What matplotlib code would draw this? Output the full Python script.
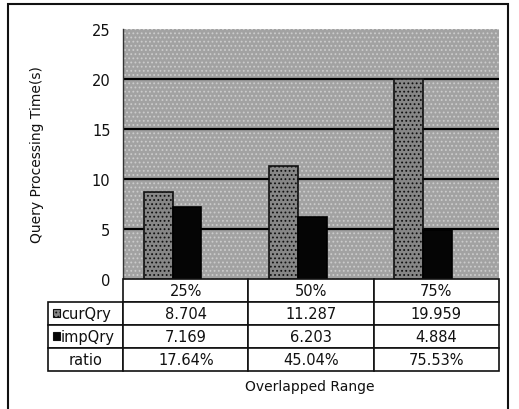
"""
重複範囲ごとのクエリ処理時間を棒グラフ＋データ表で描画
"""

import matplotlib

matplotlib.use("Agg")

import matplotlib.pyplot as plt
import numpy as np
from matplotlib.patches import Rectangle

# データ
categories = ["25%", "50%", "75%"]
cur_qry = [8.704, 11.287, 19.959]
imp_qry = [7.169, 6.203, 4.884]
ratio = ["17.64%", "45.04%", "75.53%"]
y_ticks = [0, 5, 10, 15, 20, 25]

W, H = 519, 410
plt.rcParams["font.family"] = ["DejaVu Sans"]
plt.rcParams["hatch.linewidth"] = 0.8

fig = plt.figure(figsize=(W / 100, H / 100), dpi=100)


def fx(px):
    return px / W


def fy(py):
    return 1 - py / H


# プロット領域
ax = fig.add_axes([fx(123), fy(280), fx(499) - fx(123), fy(30) - fy(280)])
ax.set_facecolor("#a2a2a2")
ax.add_patch(Rectangle((0, 0), 1, 1, transform=ax.transAxes, facecolor="none",
                       edgecolor="#cccccc", hatch="....", linewidth=0, zorder=0))

x = np.arange(len(categories))
bw = 0.23
ax.bar(x - 0.22, cur_qry, width=bw, color="#878787", edgecolor="#111111",
       linewidth=1.2, hatch="....", zorder=3)
ax.bar(x + 0.01, imp_qry, width=bw, color="#050505", edgecolor="#000000",
       linewidth=1.2, zorder=3)

ax.set_xlim(-0.5, len(categories) - 0.5)
ax.set_ylim(0, 25)
ax.set_yticks(y_ticks)
ax.set_xticks([])
ax.tick_params(axis="y", length=0, labelsize=10.5, pad=9, colors="#111111")
for v in y_ticks[1:-1]:
    ax.axhline(v, color="#000000", linewidth=1.6, zorder=2)
for side in ["top", "right", "bottom"]:
    ax.spines[side].set_visible(False)
ax.spines["left"].set_color("#333333")
ax.spines["left"].set_linewidth(1.0)

ax.set_ylabel("Query Processing Time(s)", fontsize=10, color="#111111")
ax.yaxis.set_label_coords(-(123 - 44) / (499 - 123), (280 - 155) / 250)

# データ表
cell_text = [["curQry"] + [f"{v:.3f}" for v in cur_qry],
             ["impQry"] + [f"{v:.3f}" for v in imp_qry],
             ["ratio"] + ratio]
col_labels = [""] + categories
tab_ax = fig.add_axes([fx(48), fy(372), fx(499) - fx(48), fy(280) - fy(372)])
tab_ax.axis("off")
tbl = tab_ax.table(cellText=cell_text, colLabels=col_labels,
                   colWidths=[75, 125, 125, 125], cellLoc="center",
                   bbox=[0, 0, 1, 1])
tbl.auto_set_font_size(False)
for (r, c), cell in tbl.get_celld().items():
    cell.set_linewidth(1.2)
    cell.set_edgecolor("#111111")
    cell.get_text().set_fontsize(10.5)
    cell.get_text().set_color("#111111")
    if r == 0 and c == 0:
        cell.visible_edges = ""
    elif c == 0 and r in (1, 2):
        cell.get_text().set_ha("left")
        cell.PAD = 0.17

# 凡例マーク
swatch = [("#878787", "...."), ("#050505", None)]
row_tops = [302, 325]
for (col, hatch), top in zip(swatch, row_tops):
    fig.patches.append(Rectangle((fx(53), fy(top + 16)), fx(7), fy(top + 8) - fy(top + 16),
                                 transform=fig.transFigure, facecolor=col,
                                 edgecolor="#111111", hatch=hatch, linewidth=0.8))

fig.text(fx(310), fy(387), "Overlapped Range", ha="center", va="center",
         fontsize=10, color="#111111")

# 外枠
fig.patches.append(Rectangle((fx(8), -0.05), fx(508) - fx(8), fy(5) + 0.05,
                             transform=fig.transFigure, facecolor="none",
                             edgecolor="#111111", linewidth=1.5))

fig.savefig("out.png", dpi=100)
plt.close(fig)
